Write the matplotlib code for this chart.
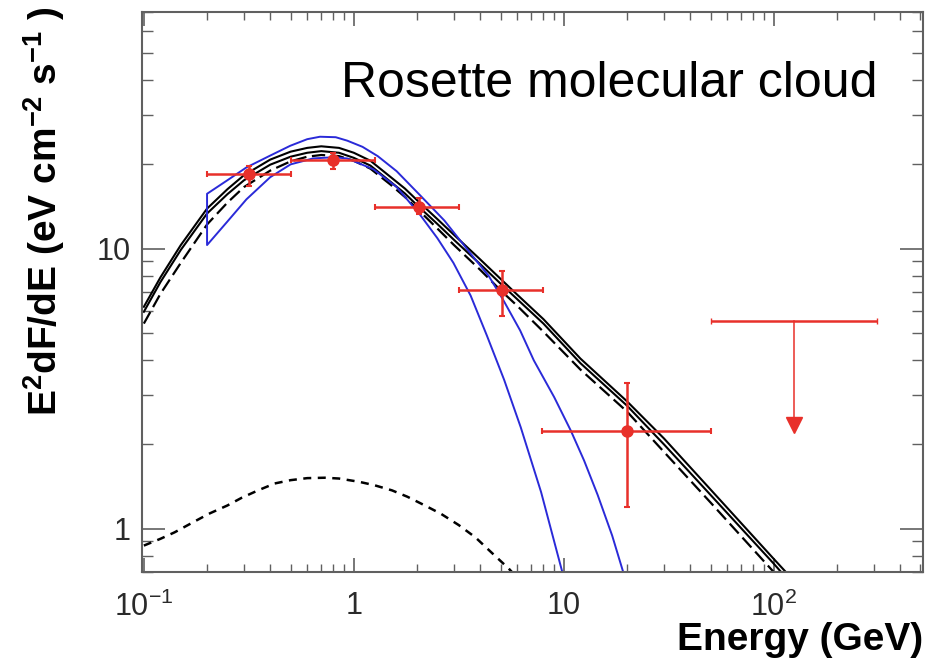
import matplotlib
matplotlib.use("Agg")
import matplotlib.pyplot as plt
import matplotlib.ticker as ticker
import numpy as np

plt.rcParams["font.family"] = ["Liberation Sans", "DejaVu Sans"]
plt.rcParams["mathtext.fontset"] = "custom"
plt.rcParams["mathtext.rm"] = "Liberation Sans"
plt.rcParams["mathtext.bf"] = "Liberation Sans:bold"

# --- data (E in GeV, E^2 dF/dE in eV cm^-2 s^-1) ---
# flux points: centre, bin edges, value, error bounds
pt_x = np.array([0.316, 0.80, 2.04, 5.07, 20.0])
pt_xlo = np.array([0.20, 0.50, 1.26, 3.16, 7.9])
pt_xhi = np.array([0.50, 1.26, 3.16, 8.0, 50.0])
pt_y = np.array([18.4, 20.8, 14.1, 7.1, 2.24])
pt_ylo = np.array([16.8, 19.3, 13.3, 5.76, 1.19])
pt_yhi = np.array([19.8, 22.0, 15.2, 8.34, 3.3])

# upper limit in the last bin
ul_x = 125.0
ul_xlo = 50.0
ul_xhi = 310.0
ul_y = 5.5
ul_head = 2.34

# total model curves (two solid, one long-dashed)
model_x = np.array([0.1, 0.12, 0.15, 0.2, 0.25, 0.3, 0.4, 0.5, 0.6, 0.7, 0.85, 1.0, 1.2, 1.5,
                    1.75, 2.0, 2.5, 3.0, 4.0, 5.0, 6.0, 8.0, 12.0, 20.0, 30.0, 50.0, 100.0, 130.0])
solid_a = np.array([6.2, 7.9, 10.3, 13.9, 16.3, 18.3, 20.8, 22.2, 22.9, 23.2, 22.9, 22.0, 20.6, 18.0,
                    16.4, 14.9, 12.75, 11.2, 9.15, 7.8, 6.85, 5.6, 4.05, 2.85, 2.1, 1.38, 0.78, 0.63])
solid_b = np.array([5.95, 7.6, 9.9, 13.35, 15.65, 17.55, 19.95, 21.3, 22.0, 22.3, 22.0, 21.1, 19.8, 17.3,
                    15.75, 14.3, 12.25, 10.75, 8.8, 7.5, 6.6, 5.4, 3.9, 2.75, 2.0, 1.32, 0.75, 0.60])
dashed = np.array([5.4, 6.9, 8.9, 12.2, 14.6, 16.6, 19.0, 20.5, 21.3, 21.6, 21.4, 20.6, 19.3, 16.9,
                   15.3, 13.9, 11.8, 10.3, 8.4, 7.1, 6.25, 5.05, 3.7, 2.62, 1.88, 1.24, 0.70, 0.57])

# small component (short dashes)
comp_x = np.array([0.1, 0.12, 0.14, 0.17, 0.204, 0.25, 0.293, 0.35, 0.42, 0.5, 0.6, 0.728, 0.85,
                   1.06, 1.25, 1.52, 1.8, 2.18, 2.6, 3.16, 3.8, 4.54, 5.47, 6.2])
comp_y = np.array([0.87, 0.92, 0.97, 1.05, 1.13, 1.21, 1.29, 1.37, 1.45, 1.49, 1.515, 1.52, 1.51,
                   1.47, 1.43, 1.37, 1.30, 1.21, 1.13, 1.03, 0.93, 0.82, 0.72, 0.65])

# blue butterfly: upper and lower edges
band_up_x = np.array([0.2, 0.25, 0.308, 0.4, 0.498, 0.6, 0.69, 0.82, 0.931, 1.1, 1.3, 1.6, 2.07,
                      2.7, 3.6, 4.4, 5.17, 6.2, 7.2, 9.0, 10.8, 12.5, 14.5, 17.0, 19.3])
band_up_y = np.array([15.7, 17.55, 19.5, 21.5, 23.3, 24.6, 25.1, 25.0, 24.3, 23.1, 21.4, 18.9, 15.5,
                      12.6, 9.6, 7.97, 6.52, 5.10, 3.99, 2.95, 2.24, 1.75, 1.32, 0.945, 0.69])
band_lo_x = np.array([0.2, 0.25, 0.308, 0.4, 0.5, 0.64, 0.8, 0.93, 1.24, 1.6, 2.07, 2.5, 2.98,
                      3.6, 4.3, 5.2, 6.24, 7.8, 9.89])
band_lo_y = np.array([10.3, 12.5, 15.0, 18.0, 20.0, 21.0, 21.2, 21.0, 19.2, 16.6, 13.2, 10.9, 8.9,
                      6.8, 4.9, 3.4, 2.3, 1.35, 0.69])

xtick_vals = [0.1, 1, 10, 100]
xtick_labels = [r"$\mathregular{10^{-1}}$", "1", "10", r"$\mathregular{10^{2}}$"]
ytick_vals = [1, 10]
ytick_labels = ["1", "10"]

red = "#e8302a"
blue = "#2a2ad8"
frame = "#606060"

fig = plt.figure(figsize=(9.38, 6.6), dpi=100)
ax = fig.add_axes([0.1514, 0.1333, 0.8326, 0.8485])
ax.set_xscale("log")
ax.set_yscale("log")

# model curves
ax.plot(model_x, solid_a, color="black", lw=1.5)
ax.plot(model_x, solid_b, color="black", lw=1.5)
ax.plot(model_x, dashed, color="black", lw=1.6, dashes=(6, 2.5))
ax.plot(comp_x, comp_y, color="black", lw=1.8, dashes=(3.2, 2.6))

# butterfly outline, closed at the low-energy end
bx = np.concatenate([band_lo_x[::-1], band_up_x])
by = np.concatenate([band_lo_y[::-1], band_up_y])
ax.plot(bx, by, color=blue, lw=1.4)

# flux points
ax.errorbar(pt_x, pt_y,
            xerr=[pt_x - pt_xlo, pt_xhi - pt_x],
            yerr=[pt_y - pt_ylo, pt_yhi - pt_y],
            fmt="o", color=red, ms=8, lw=1.8, capsize=2.5, capthick=1.5, zorder=5)

# upper limit
ax.errorbar([ul_x], [ul_y], xerr=[[ul_x - ul_xlo], [ul_xhi - ul_x]],
            fmt="none", color=red, lw=1.8, capsize=2.5, zorder=5)
ax.plot([ul_x, ul_x], [ul_y, ul_head], color=red, lw=1.1, zorder=5)
ax.plot([ul_x], [ul_head], marker="v", color=red, ms=11, zorder=6)

ax.set_xlim(0.098, 514)
ax.set_ylim(0.7, 70)

ax.set_xticks(xtick_vals)
ax.set_xticklabels(xtick_labels)
ax.set_yticks(ytick_vals)
ax.set_yticklabels(ytick_labels)
ax.xaxis.set_minor_locator(ticker.LogLocator(base=10, subs=np.arange(2, 10), numticks=30))
ax.yaxis.set_minor_locator(ticker.LogLocator(base=10, subs=np.arange(2, 10), numticks=30))
ax.xaxis.set_minor_formatter(ticker.NullFormatter())
ax.yaxis.set_minor_formatter(ticker.NullFormatter())

ax.tick_params(axis="x", which="major", direction="in", length=10, width=1.2,
               top=True, color=frame, pad=14, labelsize=22, labelcolor="#2a2a2a")
ax.tick_params(axis="x", which="minor", direction="in", length=5.5, width=1.0,
               top=True, color=frame)
ax.tick_params(axis="y", which="major", direction="in", length=16.5, width=1.2,
               right=True, color=frame, pad=8, labelsize=22, labelcolor="#2a2a2a")
ax.tick_params(axis="y", which="minor", direction="in", length=8, width=1.0,
               right=True, color=frame)
for sp in ax.spines.values():
    sp.set_color(frame)
    sp.set_linewidth(1.5)

ax.text(0.942, 0.848, "Rosette molecular cloud", transform=ax.transAxes,
        ha="right", va="baseline", fontsize=36)

fig.text(0.984, 0.030, "Energy (GeV)", ha="right", va="center",
         fontsize=28, fontweight="bold")
fig.text(0.047, 0.68,
         r"E$^{\mathbf{2}}$dF/dE (eV cm$^{\mathbf{-2}}$ s$^{\mathbf{-1}}$ )",
         rotation=90, ha="center", va="center", fontsize=28, fontweight="bold")

fig.savefig("out.png", dpi=100)
